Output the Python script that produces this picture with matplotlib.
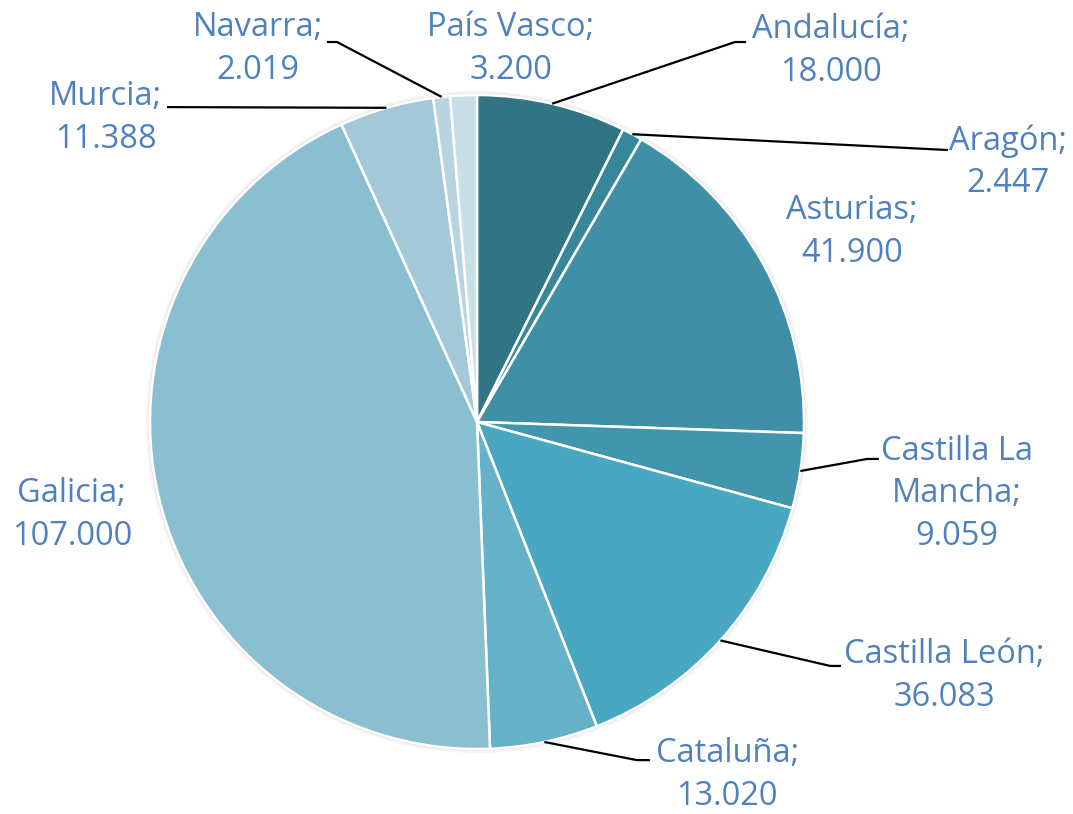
import numpy as np
import matplotlib.pyplot as plt

# values per region (thousands separator "." in labels)
regions = ["Andalucía", "Aragón", "Asturias", "Castilla La\nMancha", "Castilla León",
           "Cataluña", "Galicia", "Murcia", "Navarra", "País Vasco"]
values = [18000, 2447, 41900, 9059, 36083, 13020, 107000, 11388, 2019, 3200]
colors = ["#317585", "#37869A", "#3F90A7", "#4195AC", "#49A7C1",
          "#64B1C8", "#89BFD0", "#A3C9D8", "#B7D4E0", "#C9DFE8"]

# label centres (pie radius = 1)
label_pos = [(1.083, 1.135), (1.624, 0.795), (1.147, 0.581), (1.468, -0.220),
             (1.428, -0.777), (0.765, -1.080), (-1.239, -0.284), (-1.135, 0.930),
             (-0.670, 1.141), (0.104, 1.141)]
# leader line elbows and ends (None = no leader)
leaders = [((0.789, 1.162), (0.823, 1.162)), ((1.434, 0.832), (1.440, 0.832)), None,
           ((1.193, -0.113), (1.229, -0.113)), ((1.080, -0.746), (1.113, -0.746)),
           ((0.489, -1.034), (0.529, -1.034)), None,
           ((-0.939, 0.963), (-0.948, 0.963)), ((-0.428, 1.162), (-0.459, 1.162)), None]

fig = plt.figure(figsize=(10.73, 8.14), dpi=100)
ax = fig.add_axes([0, 0, 1, 1])

# soft shadow around the pie
for r, a in [(1.012, 0.08), (1.006, 0.12)]:
    ax.add_patch(plt.Circle((0, 0), r, color="#808080", alpha=a, lw=0, zorder=0))

wedges, _ = ax.pie(values, colors=colors, startangle=90, counterclock=False, radius=1,
                   wedgeprops=dict(edgecolor="white", linewidth=1.8))

total = sum(values)
cum = 0
for i, v in enumerate(values):
    mid = (cum + v / 2) / total
    cum += v
    ang = np.pi / 2 - 2 * np.pi * mid
    txt = regions[i] + ";\n" + f"{v:,}".replace(",", ".")
    ax.text(label_pos[i][0], label_pos[i][1], txt, ha="center", va="center",
            fontsize=23.5, color="#4F81BD", family="Open Sans", linespacing=1.38)
    if leaders[i] is not None:
        (ex, ey), (tx, ty) = leaders[i]
        ax.plot([np.cos(ang), ex, tx], [np.sin(ang), ey, ty], color="black", lw=1.6,
                solid_capstyle="butt")

ax.set_xlim(-477 / 327, (1073 - 477) / 327)
ax.set_ylim(-(814 - 422) / 327, 422 / 327)
ax.set_aspect("auto")
ax.axis("off")

fig.savefig("out.png", dpi=100)
